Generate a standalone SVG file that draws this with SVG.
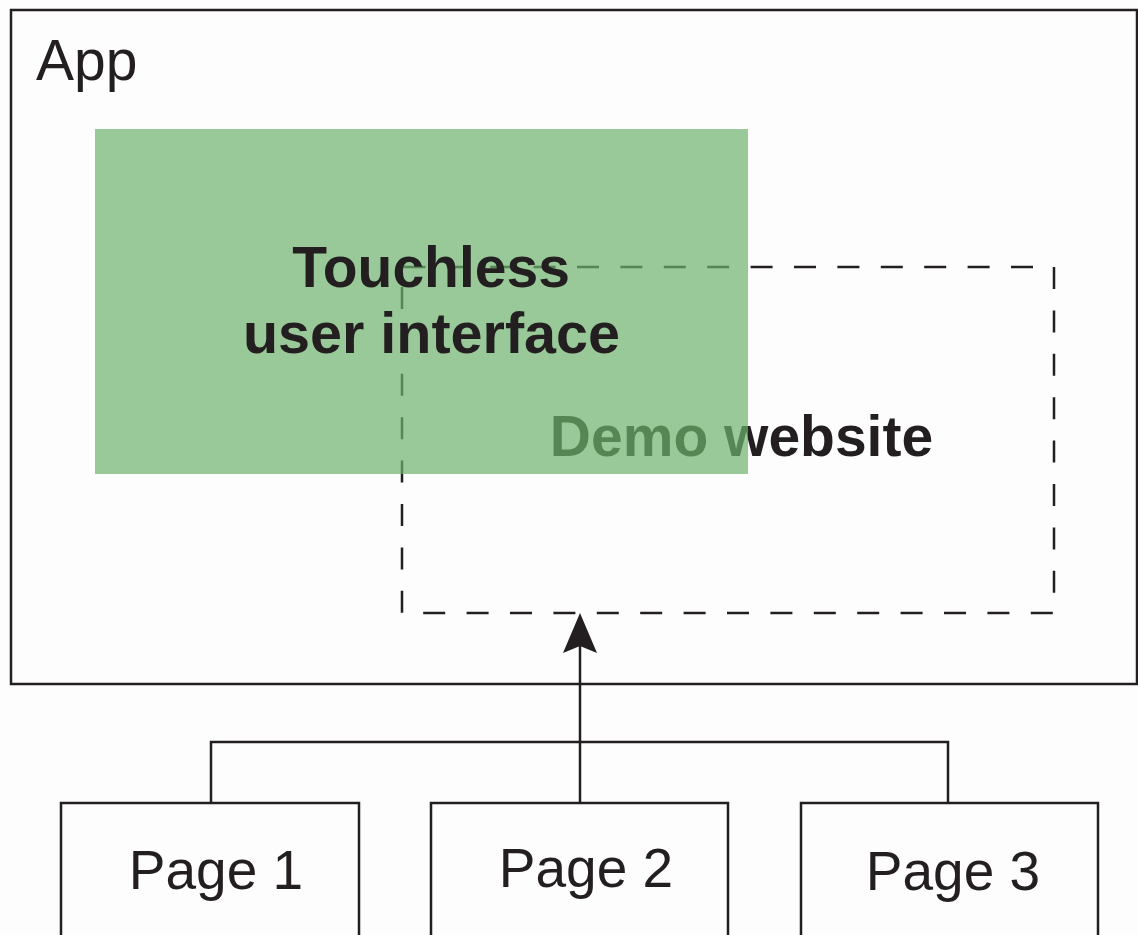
<svg xmlns="http://www.w3.org/2000/svg" width="1138" height="935" viewBox="0 0 1138 935">
  <style>
    .box { fill: none; stroke: #231f20; stroke-width: 2.5; }
    .dash { fill: none; stroke: #231f20; stroke-width: 2.5; stroke-dasharray: 22 21.4; }
    .wire { fill: none; stroke: #231f20; stroke-width: 2.5; }
    .reg { font-family: "Liberation Sans", Arial, sans-serif; fill: #231f20; }
    .bold { font-family: "Liberation Sans", Arial, sans-serif; font-weight: bold; fill: #231f20; text-anchor: middle; }
    .page { font-family: "Liberation Sans", Arial, sans-serif; fill: #231f20; font-size: 55px; text-anchor: middle; }
  </style>
  <rect x="0" y="0" width="1138" height="935" fill="#fdfdfd"/>

  <!-- outer application frame -->
  <g id="app">
    <rect class="box" x="11" y="10" width="1126" height="674"/>
    <text class="reg" x="36" y="80" font-size="57">App</text>
  </g>

  <!-- dashed website region, drawn beneath the translucent UI layer -->
  <g id="demo-website">
    <path class="dash" d="M1054,267 V613 H402 V267 Z"/>
    <text class="bold" x="741.5" y="456" font-size="57">Demo website</text>
  </g>

  <!-- translucent touchless UI overlay -->
  <g id="touchless-ui">
    <rect x="95" y="129" width="653" height="345" fill="#6db26c" fill-opacity="0.7"/>
    <text class="bold" x="431" y="287" font-size="57">Touchless</text>
    <text class="bold" x="431.5" y="353" font-size="57.5">user interface</text>
  </g>

  <!-- page nodes -->
  <g id="page1">
    <rect class="box" x="61" y="803" width="298" height="150"/>
    <text class="page" x="216" y="889">Page 1</text>
  </g>
  <g id="page2">
    <rect class="box" x="431" y="803" width="297" height="150"/>
    <text class="page" x="586" y="887">Page 2</text>
  </g>
  <g id="page3">
    <rect class="box" x="801" y="803" width="297" height="150"/>
    <text class="page" x="953" y="890" font-size="55.5">Page 3</text>
  </g>

  <!-- connectors -->
  <g id="connectors">
    <polyline class="wire" points="211,803 211,742 948,742 948,803"/>
    <line class="wire" x1="580" y1="803" x2="580" y2="645"/>
    <path d="M580,613 L597,653 L580,646 L563,653 Z" fill="#231f20"/>
  </g>
</svg>
